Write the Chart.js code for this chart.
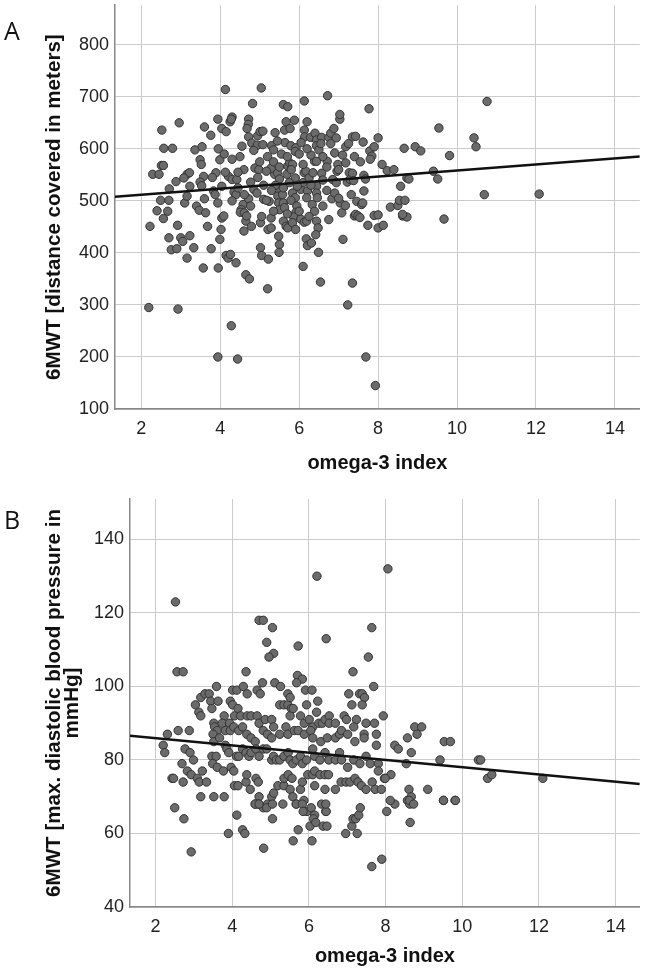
<!DOCTYPE html>
<html>
<head>
<meta charset="utf-8">
<title>omega-3 index vs 6MWT</title>
<script src="https://cdn.jsdelivr.net/npm/chart.js@4.4.1/dist/chart.umd.min.js"></script>
<style>
  html, body { margin: 0; padding: 0; background: #fff; }
  body { width: 645px; height: 973px; position: relative; overflow: hidden; }
  canvas { position: absolute; left: 0; }
</style>
</head>
<body>
<canvas id="chartA" width="645" height="490" style="top:0"></canvas>
<canvas id="chartB" width="645" height="483" style="top:490px"></canvas>
<script>
// ---- data ----
const xTicks = [2, 4, 6, 8, 10, 12, 14];
const yTicksA = [100, 200, 300, 400, 500, 600, 700, 800];
const yTicksB = [40, 60, 80, 100, 120, 140];

// panel A: omega-3 index vs 6MWT distance (m)
const pointsA = [
  [4.13,714],[5.04,717],[4.82,687],[5.6,685],[5.71,681],[6.13,692],[6.72,702],[7.77,677],[10.76,691],
  [2.52,636],[2.96,650],[2.57,601],[2.79,601],[3.6,642],[3.76,626],[3.36,598],[3.54,604],[3.94,657],
  [4.04,639],[4.25,652],[4.3,661],[4.28,657],[4.15,633],[4.72,657],[4.71,647],[4.68,639],[4.72,623],
  [4.8,611],[4.95,625],[5.01,633],[5.08,634],[4.94,607],[5.08,608],[5.3,606],[5.35,598],[5.39,631],
  [5.67,652],[5.88,655],[5.63,636],[5.77,639],[5.64,612],[5.79,606],[5.92,602],[6.13,636],[6.2,652],
  [6.14,623],[6.29,622],[6.4,630],[6.44,617],[6.44,606],[6.57,622],[6.75,622],[6.8,630],[6.88,639],
  [6.94,621],[7.03,657],[7.03,666],[6.8,610],[7.18,604],[7.35,623],[7.43,624],[7.62,613],[7.79,596],
  [7.9,604],[8.0,621],[8.66,601],[8.94,604],[9.08,596],[9.54,640],[10.43,621],[10.48,604],[9.81,587],
  [7.84,586],
  [2.29,551],[2.45,551],[2.51,568],[2.56,568],[2.22,451],[2.49,501],[2.7,501],[2.4,481],[2.67,480],
  [2.56,466],[2.71,523],[2.88,537],[2.7,429],[2.76,406],[2.9,408],[2.92,453],[3.0,429],[3.05,422],
  [3.23,433],[3.16,390],[3.16,551],[3.22,554],[3.1,496],[3.16,509],[3.08,544],[3.23,528],[3.33,410],
  [3.4,490],[3.47,482],[3.49,579],[3.52,570],[3.58,547],[3.57,371],[3.6,504],[3.63,477],[3.68,451],
  [3.49,536],[3.53,529],[3.77,408],[3.83,519],[3.87,512],[3.94,496],[3.95,371],[3.99,426],[4.04,467],
  [4.02,445],[4.09,471],[3.89,554],[3.99,579],[4.15,395],[4.2,390],[4.26,397],[4.4,381],[4.21,547],
  [4.3,541],[4.42,541],[4.35,517],[4.4,512],[4.04,528],[4.13,555],[4.58,493],[4.53,483],[4.51,478],
  [4.61,477],[4.65,461],[4.67,471],[4.79,451],[4.6,442],[4.72,504],[4.77,490],[4.85,522],[4.93,515],
  [4.61,512],[4.77,536],[4.88,563],[4.98,560],[4.65,358],[4.74,350],[5.2,331],[5.02,410],[5.05,395],
  [5.22,388],[5.02,458],[5.21,445],[5.29,448],[5.24,499],[5.1,503],[5.17,501],[5.29,467],[5.38,551],
  [5.45,554],[5.29,563],[5.17,557],[5.5,542],[5.48,522],[5.46,509],[5.48,496],[5.5,483],[5.48,432],
  [5.5,416],[5.49,401],[5.58,512],[5.6,496],[5.63,487],[5.6,461],[5.67,451],[5.71,448],[5.69,551],
  [5.71,567],[5.76,573],[5.83,570],[5.9,544],[5.83,515],[5.9,506],[5.79,501],[5.94,490],[5.92,478],
  [5.86,469],[5.83,458],[5.91,445],[6.04,465],[6.13,459],[6.19,461],[6.1,374],[6.18,427],[6.21,414],
  [6.31,419],[6.49,401],[6.54,344],[6.04,522],[6.1,535],[6.13,554],[6.17,557],[6.25,544],[6.35,554],
  [6.39,576],[6.44,576],[6.21,519],[6.19,506],[6.33,493],[6.39,480],[6.44,461],[6.48,448],[6.42,435],
  [6.44,528],[6.44,515],[6.46,506],[6.57,553],[6.71,576],[6.75,464],[6.83,504],[6.85,541],[6.94,535],
  [6.96,557],[6.98,570],[7.04,496],[7.08,477],[7.11,426],[7.17,491],[7.18,573],[7.22,536],[7.27,554],
  [7.29,541],[7.32,512],[7.35,553],[7.38,539],[7.4,471],[7.43,474],[7.35,342],[7.49,471],[7.54,468],
  [7.46,499],[7.58,493],[7.61,496],[7.64,519],[7.64,549],[7.68,542],[7.74,453],[7.9,472],[8.0,473],
  [8.0,448],[8.13,453],[8.23,558],[8.31,488],[8.5,491],[8.57,528],[8.54,501],[8.68,501],[8.73,544],
  [8.78,542],[8.62,471],[8.73,469],[8.62,474],[9.51,542],[9.4,557],[9.67,465],[10.69,512],[12.08,513],
  [2.19,295],[2.93,292],[3.94,200],[4.28,260],[4.44,196],[7.23,300],[7.69,200],[7.93,145],
  [5.55,590],[5.7,585],[5.9,595],[6.0,590],[6.3,588],[6.5,598],[6.6,585],[6.9,592],[7.1,588],
  [5.2,585],[5.35,575],[4.5,585],[4.3,580],[4.1,590],[3.95,600],[4.85,597],[6.2,600],[6.7,565],
  [7.0,560],[6.1,570],[5.8,560],[5.5,565],[5.0,575],[4.6,560],[4.45,555],[7.4,585],[7.55,575],
  [7.8,580],[8.1,570],[8.4,560],
  [5.4,530],[5.6,525],[5.75,535],[5.95,528],[6.3,530],[6.6,540],[6.7,520],[5.3,520],[5.1,530],
  [4.95,545],[6.9,515],[7.0,505],[6.6,490],[5.7,475],[6.0,480],[6.25,470],[5.35,480],[5.05,470],
  [4.3,500],[4.45,525],[3.8,545],[6.55,610],[5.45,615],[6.05,612],[7.25,610],[4.55,605]
];
// linear fit: [intercept, slope]
const fitA = [500.3, 5.8];

// panel B: omega-3 index vs max. diastolic blood pressure (mmHg)
const pointsB = [
  [2.52,123],[6.21,130],[8.06,132],[4.7,118],[4.81,118],[5.05,116],[4.9,112],[5.72,111],[6.45,113],
  [7.64,116],[5.08,109],[4.96,108],[7.55,108],
  [2.56,104],[2.72,104],[4.36,104],[7.15,104],[5.7,103],[5.83,102],[5.68,101],[4.79,101],[5.11,101],
  [5.26,100],[3.59,100],[4.01,99],[4.12,99],[4.29,100],[4.65,99],[4.73,98],[4.39,98],[5.91,99],
  [6.08,99],[7.69,100],[7.04,98],[7.32,98],[7.39,98],[7.45,97],[3.04,95],[3.18,97],[3.29,98],
  [3.4,98],[3.44,96],[3.63,96],[3.13,93],[3.18,92],[3.47,94],[3.79,92],[3.95,96],[4.01,95],
  [4.15,94],[4.06,92],[4.22,92],[4.39,92],[4.49,92],[4.65,92],[4.7,90],[4.86,91],[5.03,91],
  [5.08,89],[5.24,95],[5.35,95],[5.45,95],[5.45,98],[5.51,97],[5.54,94],[5.51,92],[5.59,94],
  [5.78,92],[5.94,95],[6.23,96],[6.2,93],[5.88,90],[6.01,91],[6.1,89],[6.26,90],[6.35,90],
  [6.42,91],[6.53,92],[6.53,90],[6.69,90],[6.92,92],[6.98,91],[7.24,91],[7.17,89],[7.12,95],
  [7.39,95],[7.49,90],[7.71,90],[7.94,92],
  [3.52,90],[3.54,89],[3.61,88],[3.5,87],[3.52,85],[3.67,86],[3.74,90],[3.82,88],[3.93,90],
  [3.95,88],[4.04,89],[4.17,88],[4.27,89],[4.38,87],[4.49,86],[4.6,85],[4.81,88],[4.92,87],
  [5.03,86],[5.24,87],[5.4,89],[5.45,87],[5.62,88],[5.72,88],[5.88,87],[6.05,88],[6.1,86],
  [6.31,85],[6.48,86],[6.69,86],[6.8,87],[6.85,88],[7.01,87],[7.2,85],[7.44,87],[7.44,86],
  [7.76,87],[7.76,84],[8.24,84],[8.33,83],[8.57,86],[8.76,89],[8.82,87],[8.94,89],[8.67,82],
  [9.53,85],[9.69,85],[10.42,80],[10.48,80],[10.66,75],[10.77,76],[12.1,75],[9.42,80],[8.54,79],
  [2.31,87],[2.59,88],[2.88,88],[2.2,84],[2.24,82],[2.77,83],[2.9,82],[2.69,79],[2.99,80],
  [2.83,77],[2.93,76],[3.09,75],[3.14,74],[3.22,77],[3.33,74],[2.43,75],[2.47,75],[2.72,74],
  [3.18,70],[3.52,70],[3.79,70],[3.47,81],[3.58,81],[3.49,79],[3.61,78],[3.77,77],[3.82,84],
  [3.86,83],[3.91,82],[3.97,78],[4.04,77],[4.11,81],[4.17,81],[4.27,83],[4.36,82],[4.44,81],
  [4.49,82],[4.62,83],[4.7,81],[4.81,83],[4.9,83],[5.03,80],[5.08,81],[5.15,80],[5.24,80],
  [5.35,81],[5.46,82],[5.51,80],[5.58,79],[5.67,80],[5.78,81],[5.83,79],[5.94,80],[6.1,83],
  [6.15,81],[6.29,80],[6.42,82],[6.52,80],[6.69,80],[6.8,82],[6.85,80],[7.01,78],[7.17,80],
  [7.33,79],[7.49,81],[7.6,79],[7.81,79],[7.81,77],[7.97,75],[8.14,76],
  [4.06,73],[4.15,73],[4.36,74],[4.38,76],[4.62,75],[4.68,74],[4.47,72],[4.7,70],[4.6,68],
  [4.68,68],[4.81,67],[4.92,68],[5.03,70],[5.08,71],[5.19,73],[5.35,73],[5.35,75],[5.46,76],
  [5.56,75],[5.51,72],[5.58,70],[5.67,68],[5.78,72],[5.83,74],[5.97,76],[6.1,76],[6.15,77],
  [6.29,76],[6.42,76],[6.51,76],[6.42,72],[6.15,73],[5.87,69],[5.95,66],[6.06,67],[6.15,65],
  [6.33,68],[6.44,66],[6.69,72],[6.84,74],[6.97,74],[7.07,74],[7.2,75],[7.28,74],[7.37,73],
  [7.49,72],[7.65,74],[7.73,72],[7.89,72],[7.99,75],[8.24,68],[8.61,72],[8.67,70],[9.1,72],
  [9.51,69],[9.81,69],[8.57,69],[8.63,68],
  [2.5,67],[2.74,64],[2.93,55],[3.9,60],[4.12,65],[4.27,61],[4.33,60],[4.6,68],[4.7,68],
  [4.9,67],[5.05,68],[5.05,64],[4.82,56],[5.32,68],[5.59,58],[5.67,68],[5.72,61],[5.83,68],
  [5.85,66],[6.03,62],[6.08,58],[6.12,64],[6.18,63],[6.37,62],[6.47,62],[6.45,66],[6.44,68],
  [6.96,60],[7.12,62],[7.15,64],[7.22,64],[7.26,60],[7.3,65],[7.34,67],[7.64,51],[7.9,53],
  [8.03,66],[8.12,69],[8.64,63],[8.62,69],[8.73,68],[9.51,69],[9.82,69]
];
const fitB = [87.9, -0.985];

// ---- drawing ----
const panelLetter = {
  id: 'panelLetter',
  afterDraw(chart, args, opts) {
    const ctx = chart.ctx;
    ctx.save();
    ctx.font = '25px "Open Sans", "Noto Sans", sans-serif';
    ctx.fillStyle = '#111';
    ctx.textBaseline = 'alphabetic';
    ctx.fillText(opts.text, opts.x, opts.y);
    ctx.restore();
  }
};

function toXY(list) {
  return list.map(p => ({x: p[0], y: p[1]}));
}

// fixed axis box sizes, and no extra label padding pushing the plot area in
function fixBox(size, key) {
  return s => {
    s[key] = size;
    s.paddingTop = 0; s.paddingBottom = 0;
    s.paddingLeft = 0; s.paddingRight = 0;
  };
}

function makePanel(id, pts, fit, cfg) {
  const xMin = 1.334, xMax = 14.63;
  const fitLine = [xMin, xMax].map(x => ({x: x, y: fit[0] + fit[1] * x}));
  const fam = '"Liberation Sans", Arial, sans-serif';
  const tickFont = {family: fam, size: 18};
  const xTitleFont = {family: fam, size: 20, weight: 'bold', lineHeight: 1.2};
  const yTitleFont = {family: fam, size: 20.6, weight: 'bold', lineHeight: cfg.titleLH};

  return new Chart(document.getElementById(id), {
    type: 'scatter',
    data: {
      datasets: [
        {
          type: 'line',
          data: fitLine,
          borderColor: '#111',
          borderWidth: 2.5,
          pointRadius: 0,
          fill: false
        },
        {
          data: toXY(pts),
          backgroundColor: '#6b6b6b',
          borderColor: '#333',
          borderWidth: 1,
          pointRadius: 4.2
        }
      ]
    },
    options: {
      responsive: false,
      animation: false,
      events: [],
      layout: {padding: {top: cfg.padTop, right: 5, left: 0, bottom: 0}},
      plugins: {
        legend: {display: false},
        tooltip: {enabled: false},
        panelLetter: {text: cfg.letter, x: 4, y: cfg.letterY}
      },
      scales: {
        x: {
          type: 'linear',
          min: xMin,
          max: xMax,
          afterFit: fixBox(cfg.xHeight, 'height'),
          afterBuildTicks: s => { s.ticks = xTicks.map(v => ({value: v})); },
          ticks: {font: tickFont, color: '#222', padding: 9, includeBounds: false},
          grid: {color: '#cbcbcb', lineWidth: 1, drawTicks: false},
          border: {display: true, color: '#888', width: 1.5},
          title: {display: true, text: 'omega-3 index', font: xTitleFont, color: '#111',
                  padding: {top: 0, bottom: cfg.xTitlePad}}
        },
        y: {
          type: 'linear',
          min: cfg.yMin,
          max: cfg.yMax,
          afterFit: fixBox(cfg.yWidth, 'width'),
          afterBuildTicks: s => { s.ticks = cfg.yTicks.map(v => ({value: v})); },
          ticks: {font: tickFont, color: '#222', padding: 6, includeBounds: false},
          grid: {color: '#cbcbcb', lineWidth: 1, drawTicks: false},
          border: {display: true, color: '#888', width: 1.5},
          title: {display: true, text: cfg.yTitle, font: yTitleFont, color: '#111',
                  padding: {top: cfg.yTitlePad, bottom: 0}}
        }
      }
    },
    plugins: [panelLetter]
  });
}

makePanel('chartA', pointsA, fitA, {
  letter: 'A', letterY: 40,
  padTop: 4, xHeight: 81, yWidth: 115,
  yMin: 100, yMax: 876, yTicks: yTicksA,
  yTitle: '6MWT [distance covered in meters]',
  titleLH: 1.2, yTitlePad: 42, xTitlePad: 15
});

makePanel('chartB', pointsB, fitB, {
  letter: 'B', letterY: 39,
  padTop: 9, xHeight: 66, yWidth: 130,
  yMin: 40, yMax: 151, yTicks: yTicksB,
  yTitle: ['6MWT [max. diastolic blood pressure in', 'mmHg]'],
  titleLH: 0.9, yTitlePad: 45, xTitlePad: 5
});
</script>
</body>
</html>
